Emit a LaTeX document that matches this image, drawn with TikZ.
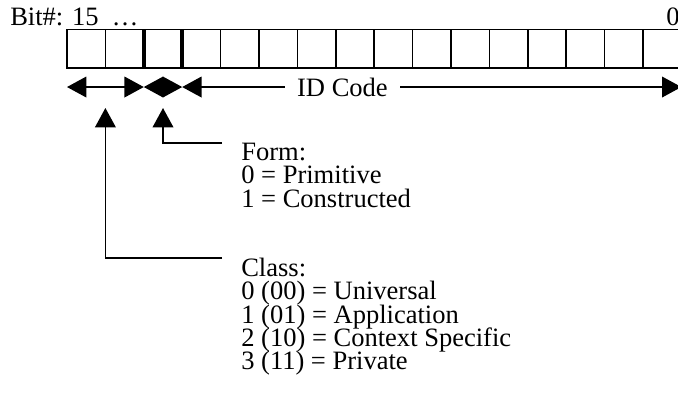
\documentclass[tikz,border=0pt]{standalone}
\usepackage{fontspec}
\setmainfont{Liberation Serif}
\usetikzlibrary{arrows.meta}

\begin{document}
\begin{tikzpicture}[x=0.75pt, y=-0.75pt,
        bitcell/.style={draw, line width=1.1pt, minimum width=28.8pt, minimum height=28.9pt, inner sep=0, outer sep=0},
        txt/.style={inner sep=0, font={\fontsize{19.9}{17.45}\selectfont\lineskiplimit-\maxdimen}},
        dim/.style={{Triangle[length=14.5pt,width=15.5pt]}-{Triangle[length=14.5pt,width=15.5pt]}, line width=1.1pt},
        lead/.style={-{Triangle[length=14.5pt,width=15.5pt]}, line width=1.1pt}]
    \useasboundingbox (0,0) rectangle (678,404);

    % Bit cells, 15 on the left down to 0 on the right
    \foreach \i in {0,...,15}
        \node[bitcell] (b\i) at ({86.2+38.4*(15-\i)}, 48.75) {};

    % Field boundaries
    \draw[line width=3pt] (b14.north east) -- (b14.south east);
    \draw[line width=3pt] (b13.north east) -- (b13.south east);

    % Bit numbers
    \node[txt, anchor=base west] (msb) at (10,25) {Bit\#: 15~~…};
    \node[txt, anchor=base west] (lsb) at (666,25) {0};

    % Field widths
    \draw[dim] ([yshift=-14.25pt]b15.south west) -- ([yshift=-14.25pt]b14.south east);
    \draw[dim] ([yshift=-14.25pt]b13.south west) -- ([yshift=-14.25pt]b13.south east);
    \draw[dim] ([yshift=-14.25pt]b12.south west) -- node[txt, pos=0.321, fill=white, inner xsep=9pt] (idcode) {ID Code} ([yshift=-14.25pt]b0.south east);

    % Labels
    \node[txt, anchor=north west, align=left, inner xsep=14.25pt] (form) at (222,143) {Form:\\0 = Primitive\\1 = Constructed};
    \node[txt, anchor=north west, align=left, inner xsep=14.25pt] (class) at (222,258) {Class:\\0 (00) = Universal\\1 (01) = Application\\2 (10) = Context Specific\\3 (11) = Private};

    \draw[lead] (form.north west) -| ([yshift=-30pt]b13.south);
    \draw[lead] (class.north west) -| ([yshift=-30pt]b15.south east);
\end{tikzpicture}
\end{document}
